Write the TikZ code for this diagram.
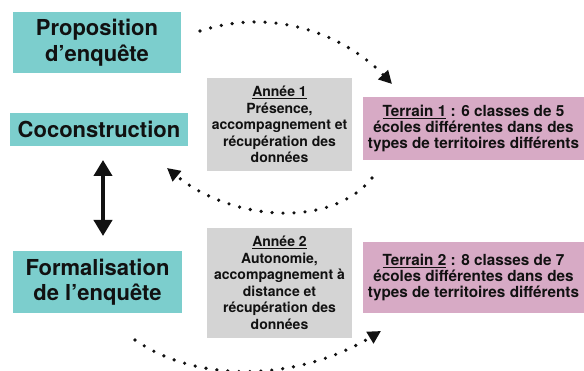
\documentclass[tikz,border=0pt]{standalone}
\usepackage{fontspec}
\setmainfont{TeX Gyre Heros}
\usetikzlibrary{arrows.meta}
\definecolor{tealbox}{RGB}{124,206,205}
\definecolor{greybox}{RGB}{212,212,212}
\definecolor{pinkbox}{RGB}{215,170,197}
\definecolor{ink}{RGB}{17,17,17}
\begin{document}
\begin{tikzpicture}[x=1pt,y=-1pt,
  bigbox/.style={fill=tealbox, inner sep=0pt, align=center, text=ink,
    font=\fontsize{22}{25.5}\selectfont\bfseries},
  yearbox/.style={fill=greybox, inner sep=0pt, align=center, text=ink,
    minimum width=145pt, font=\fontsize{14}{16.5}\selectfont\bfseries},
  fieldbox/.style={fill=pinkbox, inner sep=0pt, align=center, text=ink,
    minimum width=221pt, font=\fontsize{15.3}{16.3}\selectfont\bfseries},
  dotline/.style={line width=3.6pt, line cap=round, dash pattern=on 0pt off 11pt,
    -{Triangle[length=13pt,width=13pt]}},
  dblarrow/.style={line width=3.8pt, {Triangle[length=16pt,width=18pt]}-{Triangle[length=16pt,width=18pt]}}
]
\useasboundingbox (0,0) rectangle (584,371);

\node[bigbox, minimum width=168pt, minimum height=61pt] (prop) at (97,42.5) {Proposition\\d’enquête};
\node[bigbox, minimum width=178pt, minimum height=33pt] (coco) at (99,129.5) {Coconstruction};
\node[bigbox, minimum width=169pt, minimum height=62pt] (form) at (97.5,282) {Formalisation\\de l’enquête};

\node[yearbox, minimum height=93pt] (an1) at (279.5,124.5) {\underline{Année 1}\\Présence,\\accompagnement et\\récupération des\\données};
\node[yearbox, minimum height=110pt] (an2) at (279.5,283) {\underline{Année 2}\\Autonomie,\\accompagnement à\\distance et\\récupération des\\données};

\node[fieldbox, minimum height=63pt] (t1) at (473.5,128.5) {\underline{Terrain 1} : 6 classes de 5\\écoles différentes dans des\\types de territoires différents};
\node[fieldbox, minimum height=71pt] (t2) at (473.5,277.5) {\underline{Terrain 2} : 8 classes de 7\\écoles différentes dans des\\types de territoires différents};

\coordinate (c1s) at (200,31);
\coordinate (c1e) at (392,84);
\coordinate (c2s) at (372,178);
\coordinate (c2e) at (167,168);
\coordinate (c3s) at (135,340);
\coordinate (c3e) at (381,331);
\coordinate (d1) at (103,160);
\coordinate (d2) at (103,236);

\draw[dotline, ink] (c1s) .. controls (280,5) and (350,40) .. (c1e);
\draw[dotline, ink] (c2s) .. controls (330,230) and (230,220) .. (c2e);
\draw[dotline, ink] (c3s) .. controls (200,385) and (300,380) .. (c3e);
\draw[dblarrow, ink] (d1) -- (d2);
\end{tikzpicture}
\end{document}
